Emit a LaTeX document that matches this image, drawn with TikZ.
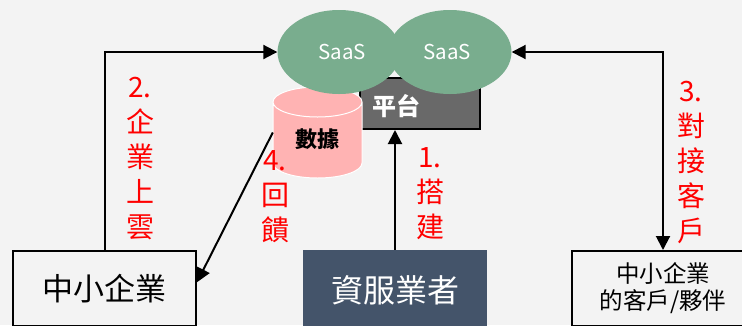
\documentclass[tikz,border=0pt]{standalone}
\usepackage{fontspec}
\setmainfont{Noto Sans CJK TC}
\usetikzlibrary{arrows.meta,shapes.geometric}

\definecolor{bgcol}{HTML}{F3F3F3}
\definecolor{saasgreen}{HTML}{79AD8E}
\definecolor{platgray}{HTML}{696969}
\definecolor{dbpink}{HTML}{FFB3B3}
\definecolor{slate}{HTML}{44546A}
\definecolor{stepred}{HTML}{FF0000}

\tikzset{
  box/.style={draw=black, line width=2pt, fill=bgcol, inner sep=0pt},
  saas/.style={ellipse, fill=saasgreen, inner sep=0pt, minimum width=123pt,
    minimum height=84pt, text=white, font=\fontsize{20.5}{24}\selectfont},
  % anchored on the baseline of the last line
  steplabel/.style={text=stepred, align=center, anchor=base, inner sep=0pt,
    font=\fontsize{28}{35}\selectfont},
  conn/.style={line width=2pt, draw=black},
  tip/.style={-{Triangle[length=14pt,width=14pt]}},
}

\begin{document}
\begin{tikzpicture}[x=1pt,y=-1pt]
\useasboundingbox (0,0) rectangle (742,325);
\fill[bgcol] (0,0) rectangle (742,325);

% platform block behind the SaaS ellipses
\node[draw=black, line width=2pt, fill=platgray, inner sep=0pt,
      minimum width=120pt, minimum height=51pt] (plat) at (420,103.5) {};
\node[text=white, font=\bfseries\fontsize{24}{28}\selectfont, inner sep=0pt]
      (platlbl) at (396,106) {平台};

% database cylinder
\fill[dbpink] (273,102) -- (273,163)
  arc[start angle=180, end angle=360, x radius=44.5pt, y radius=15pt]
  -- (362,102)
  arc[start angle=0, end angle=180, x radius=44.5pt, y radius=15pt] -- cycle;
\draw[white, line width=1pt] (273,102) -- (273,163)
  arc[start angle=180, end angle=360, x radius=44.5pt, y radius=15pt]
  -- (362,102)
  arc[start angle=0, end angle=180, x radius=44.5pt, y radius=15pt]
  arc[start angle=180, end angle=360, x radius=44.5pt, y radius=15pt];
\node[minimum width=89pt, minimum height=91pt, inner sep=0pt] (db) at (317.5,132.5) {};
\node[font=\bfseries\fontsize{22}{26}\selectfont, inner sep=0pt] (dblbl) at (317,139) {數據};

% SaaS ellipses
\node[saas] (saas1) at (339,52) {\hspace*{6pt}SaaS};
\node[saas] (saas2) at (450,52) {\hspace*{-6pt}SaaS};

% bottom boxes
\node[box, minimum width=183pt, minimum height=74.5pt,
      font=\fontsize{31}{34}\selectfont] (sme) at (104.5,288.25) {中小企業};
\node[fill=slate, inner sep=0pt, minimum width=184pt, minimum height=80pt,
      text=white, font=\fontsize{32}{34}\selectfont] (svc) at (395,290) {資服業者};
\node[box, minimum width=182pt, minimum height=75pt, align=center,
      font=\fontsize{23.5}{27}\selectfont] (client) at (663,288.5) {中小企業\\的客戶/夥伴};

% connectors
\draw[conn, tip] (svc.north) -- (svc.north |- plat.south);
\draw[conn, tip] (sme.north) |- (saas1.west);
\draw[conn, {Triangle[length=14pt,width=14pt]}-{Triangle[length=14pt,width=14pt]}]
      (saas2.east) -| (client.north);
\draw[conn, tip] (db.west) -- ([yshift=6pt]sme.east);

% step labels
\node[steplabel] (s1) at (430,237) {1.\\搭\\建};
\node[steplabel] (s2) at (140,237) {2.\\企\\業\\上\\雲};
\node[steplabel] (s3) at (691,241) {3.\\對\\接\\客\\戶};
\node[steplabel] (s4) at (275,240) {4.\\回\\饋};
\end{tikzpicture}
\end{document}
